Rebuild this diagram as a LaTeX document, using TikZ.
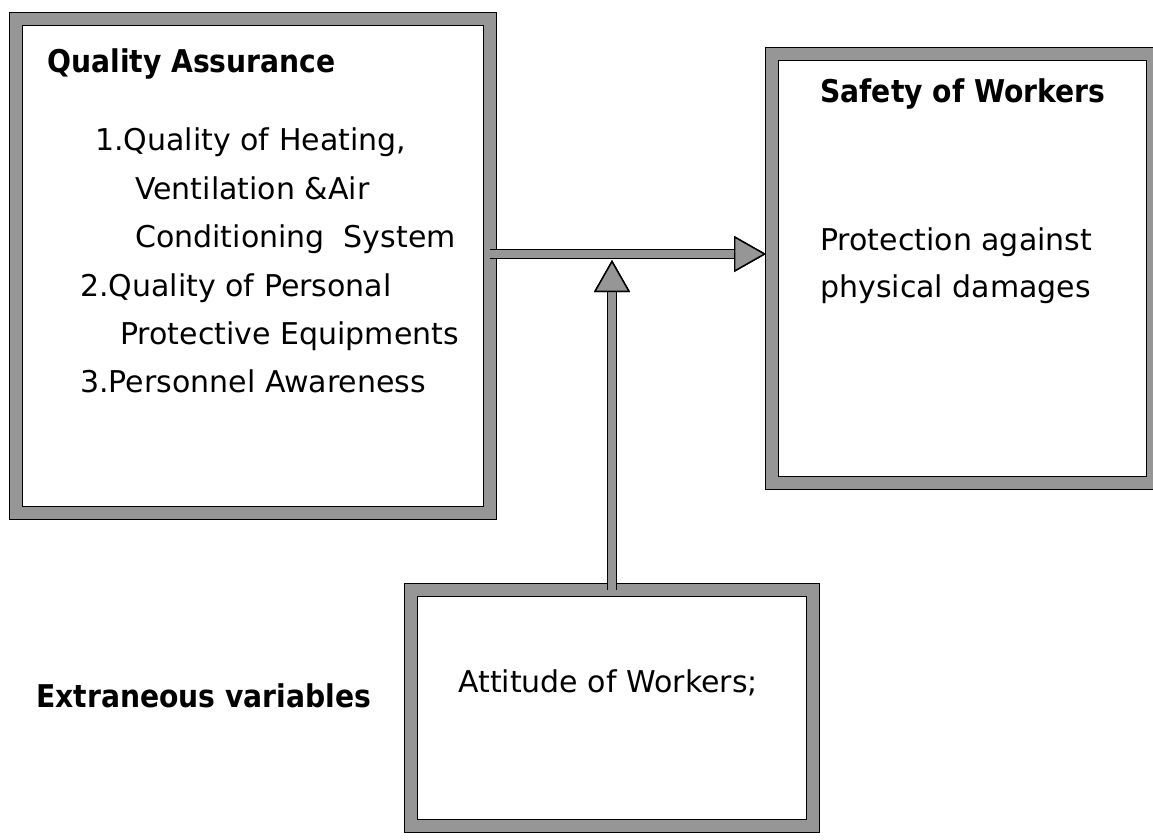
\documentclass[tikz,border=0pt]{standalone}
\usepackage{fontspec}
\setmainfont{DejaVu Sans}
\newfontfamily\headfont{DejaVu Sans}[FakeStretch=0.9]
\usetikzlibrary{arrows.meta}
\definecolor{bordergray}{RGB}{150,150,150}

\begin{document}
\begin{tikzpicture}[x=0.75pt,y=-0.75pt,
  framebox/.style={draw=black,line width=1.1pt,double=bordergray,double distance=8.4pt,outer sep=0pt,inner sep=0pt},
  fatarrow/.style={preaction={draw=black,line width=8pt},draw=bordergray,line width=5.6pt,
    -{Triangle[length=24pt,width=27pt,line width=1.1pt,fill=bordergray,color=black]}},
  title/.style={font=\headfont\fontsize{23.5}{28}\selectfont\bfseries,anchor=base west,inner sep=0pt},
  item/.style={font=\fontsize{22.5}{27}\selectfont,anchor=base west,inner sep=0pt}]
\useasboundingbox (0,0) rectangle (1153,839);

% boxes
\node[framebox,minimum width={474*0.75pt},minimum height={494*0.75pt}] (qa) at (253,266) {};
\node[framebox,minimum width={381*0.75pt},minimum height={429*0.75pt}] (sw) at (962.5,268.5) {};
\node[framebox,minimum width={402*0.75pt},minimum height={236*0.75pt}] (att) at (612,708) {};

% texts
\node[title] (qatitle) at (47,72) {Quality Assurance};
\node[item] (qa1) at (95,150) {1.Quality of Heating,};
\node[item] (qa1b) at (135,199) {Ventilation \&Air};
\node[item] (qa1c) at (135,247) {Conditioning\ \ System};
\node[item] (qa2) at (80,296) {2.Quality of Personal};
\node[item] (qa2b) at (120,344) {Protective Equipments};
\node[item] (qa3) at (80,392) {3.Personnel Awareness};

\node[title] (swtitle) at (820,102) {Safety of Workers};
\node[item] (sw1) at (820,250) {Protection against};
\node[item] (sw1b) at (820,297) {physical damages};

\node[title] (ext) at (36,707) {Extraneous variables};
\node[item] (att1) at (458,692) {Attitude of Workers;};

% connectors
\coordinate (hline) at (0,254);
\coordinate (vtip) at (612,260);
\draw[fatarrow] (qa.east |- hline) -- ([xshift=-4.5pt]sw.west |- hline);
\draw[fatarrow] (att.north) -- (att.north |- vtip);
\end{tikzpicture}
\end{document}
